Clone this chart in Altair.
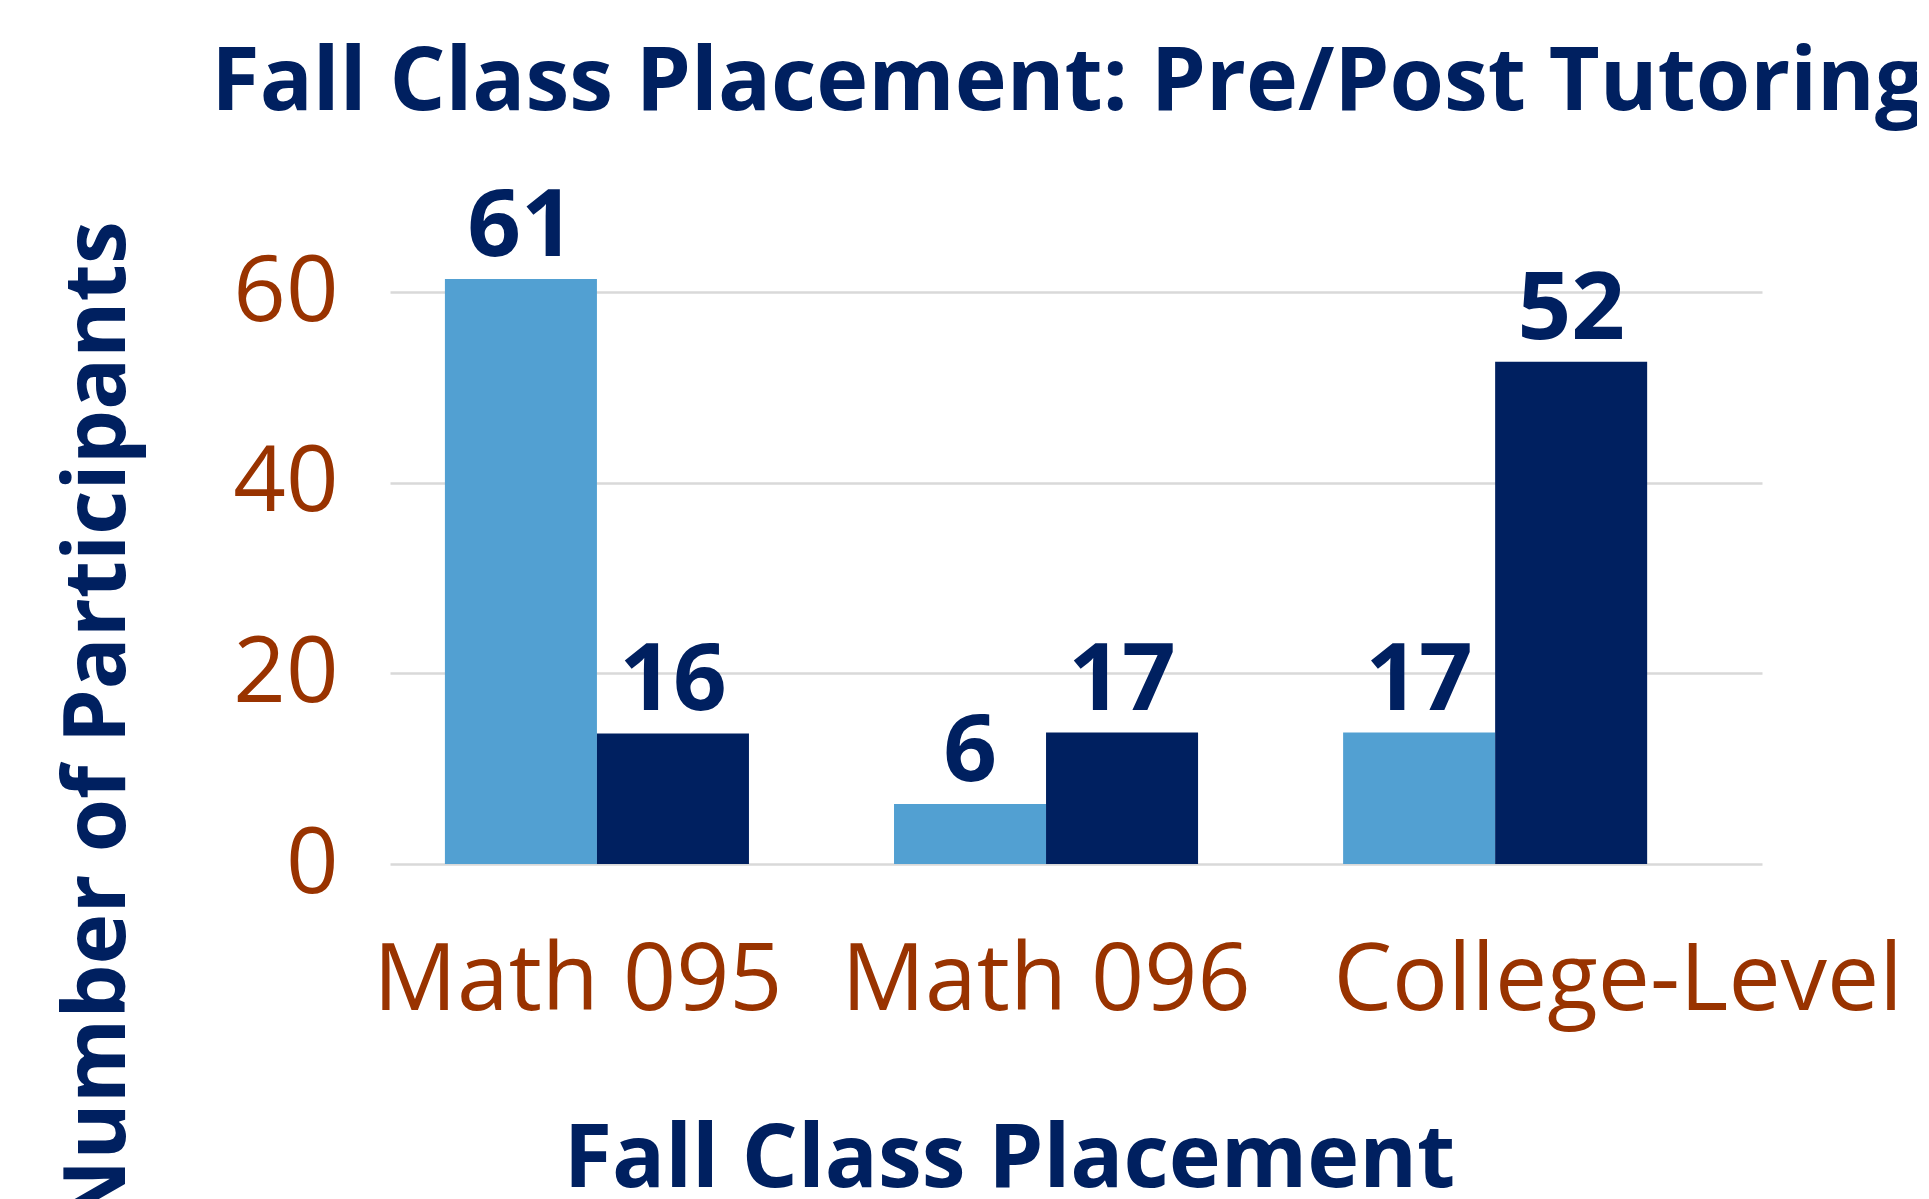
import altair as alt
import pandas as pd

# ---- data ----
categories = ["Math 095", "Math 096", "College-Level"]
series = ["Pre-Tutoring", "Post-Tutoring"]
pre_values = [61.4, 6.3, 13.8]      # bar heights as drawn
post_values = [13.7, 13.8, 52.7]
pre_labels = ["61", "6", "17"]      # data labels as printed
post_labels = ["16", "17", "52"]
y_ticks = [0, 20, 40, 60]

rows = []
for i, c in enumerate(categories):
    rows.append({"category": c, "series": series[0], "value": pre_values[i], "label": pre_labels[i]})
    rows.append({"category": c, "series": series[1], "value": post_values[i], "label": post_labels[i]})
df = pd.DataFrame(rows)

NAVY = "#002060"
LIGHT = "#52A0D2"
RUST = "#993300"
GRID = "#d9d9d9"
FONT = "Open Sans"

x_enc = alt.X(
    "category:N",
    sort=categories,
    scale=alt.Scale(paddingInner=0.323, paddingOuter=0.189, align=0.3235),
    axis=alt.Axis(
        title="Fall Class Placement",
        titleFont=FONT, titleFontSize=88, titleFontWeight="bold", titleColor=NAVY,
        titleX=619, titleY=322, titleBaseline="alphabetic", titleAlign="center",
        titleLimit=2000,
        labelFont=FONT, labelFontSize=93, labelColor=RUST, labelAngle=0,
        labelBaseline="alphabetic", labelPadding=145, labelLimit=1000,
        labelOverlap=False,
        labelOffset={"condition": [
            {"test": "datum.value === 'Math 095'", "value": -19},
            {"test": "datum.value === 'College-Level'", "value": 123}],
            "value": 0},
        ticks=False, tickSize=0, domain=False, grid=False,
    ),
)

y_enc = alt.Y(
    "value:Q",
    scale=alt.Scale(domain=[0, 70], nice=False),
    axis=alt.Axis(
        values=y_ticks,
        title="Number of Participants",
        titleFont=FONT, titleFontSize=86, titleFontWeight="bold", titleColor=NAVY,
        titleAngle=270, titleX=-266, titleY=528, titleBaseline="alphabetic",
        titleAlign="center", titleLimit=2000,
        labelFont=FONT, labelFontSize=92, labelColor=RUST, labelPadding=52,
        labelBaseline="middle", labelLimit=1000, labelOverlap=False,
        ticks=False, tickSize=0, domain=False,
        grid=True, gridColor=GRID, gridWidth=2.5,
    ),
)

xoff = alt.XOffset("series:N", sort=series, scale=alt.Scale(domain=series))
color = alt.Color("series:N", scale=alt.Scale(domain=series, range=[LIGHT, NAVY]), legend=None)

bars = alt.Chart(df).mark_bar().encode(x=x_enc, y=y_enc, xOffset=xoff, color=color)

labels = alt.Chart(df).mark_text(
    font=FONT, fontSize=94, fontWeight="bold", color=NAVY,
    baseline="alphabetic", align="center", dy=-23,
).encode(x=alt.X("category:N", sort=categories), y="value:Q", xOffset=xoff, text="label:N")

chart = alt.layer(bars, labels).properties(
    width=1372,
    height=667,
    title=alt.TitleParams(
        text="Fall Class Placement: Pre/Post Tutoring",
        font=FONT, fontSize=88, fontWeight="bold", color=NAVY,
        anchor="middle", frame="group", baseline="alphabetic",
        offset=89, dx=-8, dy=106, limit=2000,
    ),
    autosize=alt.AutoSizeParams(type="none"),
    padding={"left": 382, "top": 189, "right": 155, "bottom": 335},
).configure(background="white").configure_view(stroke=None)

chart.save("out.html", embed_options={"renderer": "svg", "actions": False})
